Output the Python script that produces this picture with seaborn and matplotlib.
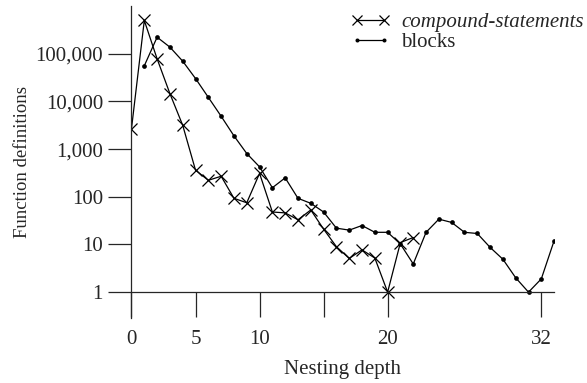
import numpy as np
import pandas as pd
import matplotlib
matplotlib.use("Agg")
import matplotlib.pyplot as plt
import seaborn as sns

# === Data ===
compound_depth = list(range(0, 23))
compound_count = [2700, 500000, 78500, 14600, 3160, 362, 222, 270, 93, 75,
                  310, 48, 46, 33, 53, 21, 9, 5.1, 7.7, 5.2, 1, 11, 14]

block_depth = list(range(1, 34))
block_count = [56000, 223000, 138000, 70000, 30300, 12200, 4900, 1900, 810, 425,
               155, 250, 93, 73, 48, 22, 20, 25, 18, 18, 10.2, 3.9, 18, 34,
               29, 18, 17, 8.7, 4.9, 2.0, 1, 1.9, 12]

y_ticks = [1, 10, 100, 1000, 10000, 100000]
y_tick_labels = ["1", "10", "100", "1,000", "10,000", "100,000"]
x_ticks = [0, 5, 10, 15, 20, 32]
x_tick_labels = ["0", "5", "10", "", "20", "32"]

# === Style ===
sns.set_style("ticks")
plt.rcParams["font.family"] = ["Liberation Serif", "DejaVu Serif"]
fs = 15

fig = plt.figure(figsize=(5.87, 3.83), dpi=100)
ax = fig.add_axes([0.224, 0.170, 0.72, 0.814])

sns.lineplot(x=compound_depth, y=compound_count, ax=ax, color="black",
             marker="x", markersize=8, markeredgewidth=0.9,
             markeredgecolor="black", linewidth=0.9,
             label="compound-statements")
sns.lineplot(x=block_depth, y=block_count, ax=ax, color="black",
             marker="o", markersize=3.4, markeredgewidth=0,
             markerfacecolor="black", linewidth=0.9, label="blocks")

ax.set_yscale("log")
ax.set_ylim(10 ** -0.54, 10 ** 6.0)
ax.set_xlim(0, 33)
ax.minorticks_off()

ax.set_yticks(y_ticks)
ax.set_yticklabels(y_tick_labels)
ax.set_xticks(x_ticks)
ax.set_xticklabels(x_tick_labels)

# x axis line sits at y = 1, ticks hang down from it
ax.spines["bottom"].set_position(("data", 1))
for side in ["top", "right"]:
    ax.spines[side].set_visible(False)
for side in ["left", "bottom"]:
    ax.spines[side].set_linewidth(0.9)
ax.tick_params(axis="x", direction="out", length=18, width=0.9, pad=9,
               labelsize=fs)
ax.tick_params(axis="y", direction="out", length=16.5, width=0.9, pad=4,
               labelsize=fs)

ax.set_xlabel("Nesting depth", fontsize=fs, labelpad=8)
ax.set_ylabel("Function definitions", fontsize=13.5, labelpad=3)

leg = ax.legend(loc="upper left", bbox_to_anchor=(0.5, 1.005), frameon=False,
                numpoints=2, handlelength=1.9, handletextpad=0.5,
                labelspacing=0.0, fontsize=fs, borderaxespad=0,
                markerscale=0.85)
leg.get_texts()[0].set_fontstyle("italic")

fig.savefig("out.png", dpi=100)
